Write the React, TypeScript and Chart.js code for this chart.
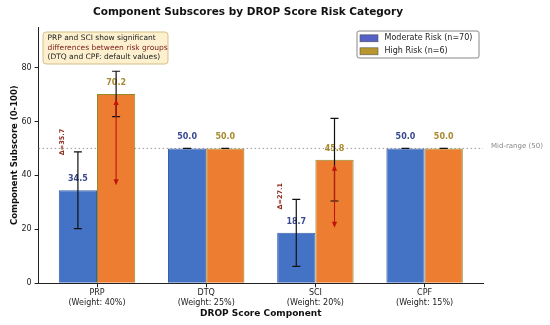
import React, { useEffect, useRef } from 'react';
import { Chart, registerables } from 'chart.js';

Chart.register(...registerables);

const components = ['PRP', 'DTQ', 'SCI', 'CPF'];
const weightLabels = ['(Weight: 40%)', '(Weight: 25%)', '(Weight: 20%)', '(Weight: 15%)'];
const seriesLabels = ['Moderate Risk (n=70)', 'High Risk (n=6)'];
const moderateValues = [34.5, 50.0, 18.7, 50.0];
const highValues = [70.2, 50.0, 45.8, 50.0];
const moderateErrors = [14.2, 0, 12.4, 0];
const highErrors = [8.4, 0, 15.3, 0];
const significantComponents = ['PRP', 'SCI'];
const yTicks = [0, 20, 40, 60, 80];
const midRangeValue = 50;
const noteLines = ['PRP and SCI show significant', 'differences between risk groups', '(DTQ and CPF: default values)'];

const FONT = 'DejaVu Sans';
const BLUE = '#4472C4';
const ORANGE = '#ED7D31';
const BLUE_TEXT = '#3A4A8F';
const ORANGE_TEXT = '#A88A2E';

function roundRect(ctx: CanvasRenderingContext2D, x: number, y: number, w: number, h: number, r: number) {
  ctx.beginPath();
  ctx.moveTo(x + r, y);
  ctx.lineTo(x + w - r, y);
  ctx.quadraticCurveTo(x + w, y, x + w, y + r);
  ctx.lineTo(x + w, y + h - r);
  ctx.quadraticCurveTo(x + w, y + h, x + w - r, y + h);
  ctx.lineTo(x + r, y + h);
  ctx.quadraticCurveTo(x, y + h, x, y + h - r);
  ctx.lineTo(x, y + r);
  ctx.quadraticCurveTo(x, y, x + r, y);
  ctx.closePath();
}

function arrowHead(ctx: CanvasRenderingContext2D, x: number, tipY: number, dir: number) {
  ctx.beginPath();
  ctx.moveTo(x, tipY);
  ctx.lineTo(x - 2.6, tipY - dir * 6);
  ctx.lineTo(x + 2.6, tipY - dir * 6);
  ctx.closePath();
  ctx.fill();
}

const overlayPlugin = {
  id: 'overlay',
  beforeDatasetsDraw(chart: any) {
    const { ctx, chartArea, scales } = chart;
    const y = scales.y.getPixelForValue(midRangeValue);
    ctx.save();
    ctx.strokeStyle = '#9a9a9a';
    ctx.lineWidth = 1;
    ctx.setLineDash([1.5, 2.5]);
    ctx.beginPath();
    ctx.moveTo(chartArea.left, y);
    ctx.lineTo(chartArea.right, y);
    ctx.stroke();
    ctx.setLineDash([]);
    ctx.fillStyle = '#888';
    ctx.font = `7px "${FONT}"`;
    ctx.textAlign = 'left';
    ctx.textBaseline = 'middle';
    ctx.fillText(`Mid-range (${midRangeValue})`, chartArea.right + 8, y - 2);
    ctx.restore();
  },
  afterDatasetsDraw(chart: any) {
    const { ctx, scales } = chart;
    const ys = scales.y;
    const xs = scales.x;
    const sets = [
      { values: moderateValues, errors: moderateErrors, color: BLUE_TEXT },
      { values: highValues, errors: highErrors, color: ORANGE_TEXT },
    ];
    ctx.save();
    sets.forEach((s, di) => {
      const meta = chart.getDatasetMeta(di);
      s.values.forEach((v, i) => {
        const el = meta.data[i];
        ctx.fillStyle = s.color;
        ctx.font = `bold 8px "${FONT}"`;
        ctx.textAlign = 'center';
        ctx.textBaseline = 'middle';
        ctx.fillText(v.toFixed(1), el.x, el.y - 11);
      });
    });
    sets.forEach((s, di) => {
      const meta = chart.getDatasetMeta(di);
      s.values.forEach((v, i) => {
        const el = meta.data[i];
        const e = s.errors[i];
        const yt = ys.getPixelForValue(v + e);
        const yb = ys.getPixelForValue(v - e);
        ctx.strokeStyle = '#111';
        ctx.lineWidth = 1.2;
        ctx.beginPath();
        ctx.moveTo(el.x, yt);
        ctx.lineTo(el.x, yb);
        ctx.moveTo(el.x - 4, yt);
        ctx.lineTo(el.x + 4, yt);
        ctx.moveTo(el.x - 4, yb);
        ctx.lineTo(el.x + 4, yb);
        ctx.stroke();
      });
    });
    const highMeta = chart.getDatasetMeta(1);
    components.forEach((c, i) => {
      if (!significantComponents.includes(c)) return;
      const x = highMeta.data[i].x;
      const yLow = ys.getPixelForValue(moderateValues[i]);
      const yHigh = ys.getPixelForValue(highValues[i]);
      const tipTop = yHigh + 5;
      const tipBot = yLow - 5;
      ctx.strokeStyle = '#C0140C';
      ctx.fillStyle = '#C0140C';
      ctx.lineWidth = 1.1;
      ctx.beginPath();
      ctx.moveTo(x, tipTop + 4);
      ctx.lineTo(x, tipBot - 4);
      ctx.stroke();
      arrowHead(ctx, x, tipTop, -1);
      arrowHead(ctx, x, tipBot, 1);
      const diff = highValues[i] - moderateValues[i];
      const tx = xs.getPixelForValue(i - 0.32);
      const ty = ys.getPixelForValue((moderateValues[i] + highValues[i]) / 2);
      ctx.save();
      ctx.translate(tx, ty);
      ctx.rotate(-Math.PI / 2);
      ctx.fillStyle = '#8B2A1A';
      ctx.font = `bold 6.5px "${FONT}"`;
      ctx.textAlign = 'center';
      ctx.textBaseline = 'middle';
      ctx.fillText(`Δ=${diff.toFixed(1)}`, 0, 0);
      ctx.restore();
    });
    ctx.restore();
  },
  afterDraw(chart: any) {
    const { ctx } = chart;
    ctx.save();
    ctx.fillStyle = '#111';
    ctx.font = `bold 10.5px "${FONT}"`;
    ctx.textAlign = 'center';
    ctx.textBaseline = 'middle';
    ctx.fillText('Component Subscores by DROP Score Risk Category', 248, 12);
    roundRect(ctx, 43, 32, 125, 32, 3);
    ctx.fillStyle = '#FCF0CF';
    ctx.fill();
    ctx.strokeStyle = '#D6BF86';
    ctx.lineWidth = 1;
    ctx.stroke();
    ctx.font = `7.5px "${FONT}"`;
    ctx.textAlign = 'left';
    const noteColors = ['#222', '#7A1A1A', '#222'];
    noteLines.forEach((line, k) => {
      ctx.fillStyle = noteColors[k];
      ctx.fillText(line, 47.5, 37.8 + k * 9.8);
    });
    roundRect(ctx, 357, 31, 122, 27, 2);
    ctx.fillStyle = 'rgba(255,255,255,0.9)';
    ctx.fill();
    ctx.strokeStyle = '#888';
    ctx.stroke();
    const swatches = ['#5561C6', '#B8962E'];
    seriesLabels.forEach((lab, k) => {
      const cy = 38.3 + k * 13;
      ctx.fillStyle = swatches[k];
      ctx.fillRect(360, cy - 3.5, 18, 7);
      ctx.strokeStyle = '#555';
      ctx.lineWidth = 0.6;
      ctx.strokeRect(360, cy - 3.5, 18, 7);
      ctx.fillStyle = '#222';
      ctx.font = `8px "${FONT}"`;
      ctx.textAlign = 'left';
      ctx.textBaseline = 'middle';
      ctx.fillText(lab, 384.5, cy);
    });
    ctx.restore();
  },
};

export default function App() {
  const canvasRef = useRef<HTMLCanvasElement | null>(null);

  useEffect(() => {
    if (!canvasRef.current) return;
    Chart.defaults.font.family = FONT;
    const chart = new Chart(canvasRef.current, {
      type: 'bar',
      data: {
        datasets: [
          {
            label: seriesLabels[0],
            data: moderateValues.map((v, i) => ({ x: i, y: v })),
            backgroundColor: BLUE,
            borderColor: '#3A5FA8',
            borderWidth: 1,
            categoryPercentage: 0.7,
            barPercentage: 1,
          },
          {
            label: seriesLabels[1],
            data: highValues.map((v, i) => ({ x: i, y: v })),
            backgroundColor: ORANGE,
            borderColor: '#8E8A28',
            borderWidth: 1,
            categoryPercentage: 0.7,
            barPercentage: 1,
          },
        ],
      },
      options: {
        animation: false,
        responsive: false,
        maintainAspectRatio: false,
        layout: { padding: { top: 27, right: 67, left: 0, bottom: 0 } },
        plugins: {
          legend: { display: false },
          title: { display: false },
          tooltip: { enabled: false },
        },
        scales: {
          x: {
            type: 'linear',
            min: -0.535,
            max: 3.535,
            offset: false,
            afterBuildTicks: (s: any) => {
              s.ticks = components.map((_, i) => ({ value: i }));
            },
            afterFit: (s: any) => {
              s.height = 41.7;
            },
            ticks: {
              autoSkip: false,
              maxRotation: 0,
              padding: 1,
              color: '#222',
              font: { family: FONT, size: 8, lineHeight: 1.25 },
              callback: (v: any) => [components[v], weightLabels[v]],
            },
            grid: { offset: false, drawOnChartArea: false, drawTicks: true, tickLength: 4, color: '#222' },
            border: { display: true, color: '#222', width: 1 },
            title: {
              display: true,
              text: 'DROP Score Component',
              color: '#111',
              font: { family: FONT, size: 9, weight: 'bold', lineHeight: 1.2 },
              padding: { top: 0, bottom: 6 },
            },
          },
          y: {
            min: 0,
            max: 95,
            afterBuildTicks: (s: any) => {
              s.ticks = yTicks.map((v) => ({ value: v }));
            },
            afterFit: (s: any) => {
              s.width = 38.6;
            },
            ticks: {
              padding: 3,
              color: '#222',
              font: { family: FONT, size: 8 },
            },
            grid: { drawOnChartArea: false, drawTicks: true, tickLength: 4, color: '#222' },
            border: { display: true, color: '#222', width: 1 },
            title: {
              display: true,
              text: 'Component Subscore (0-100)',
              color: '#111',
              font: { family: FONT, size: 8.5, weight: 'bold', lineHeight: 1.2 },
              padding: { top: 10, bottom: 0 },
            },
          },
        },
      },
      plugins: [overlayPlugin],
    });
    return () => chart.destroy();
  }, []);

  return (
    <div style={{ position: 'absolute', left: 0, top: 0, width: 550, height: 325, background: '#fff' }}>
      <canvas ref={canvasRef} width={550} height={325} style={{ display: 'block' }} />
    </div>
  );
}
